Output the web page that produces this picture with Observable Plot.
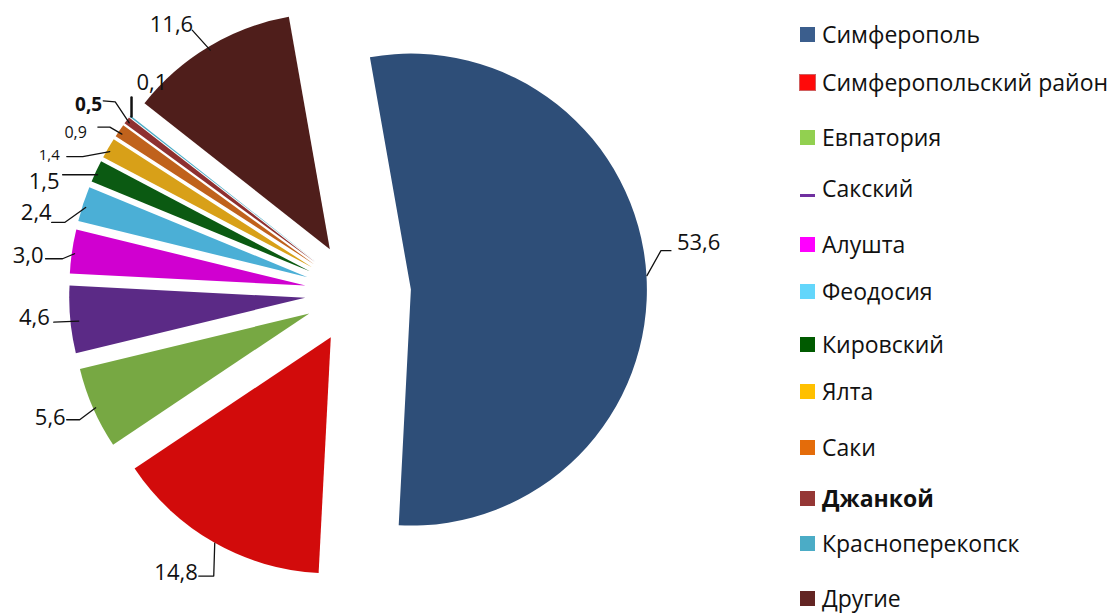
<!DOCTYPE html>
<html>
<head>
<meta charset="utf-8">
<script src="https://cdn.jsdelivr.net/npm/d3@7"></script>
<script src="https://cdn.jsdelivr.net/npm/@observablehq/plot@0.6"></script>
<style>
  html, body { margin: 0; padding: 0; background: #fff; }
  #wrap { position: relative; width: 1109px; height: 613px; overflow: hidden; font-family: "Open Sans", sans-serif; }
  #chart { position: absolute; left: 0; top: 0; }
  .lg { position: absolute; left: 800px; display: flex; align-items: center; white-space: nowrap; font-size: 23px; line-height: 26px; color: #111; height: 26px; }
  .sw { width: 15px; height: 15px; margin-right: 7px; flex: none; }
</style>
</head>
<body>
<div id="wrap"><div id="chart"></div></div>
<script>
// ---- data ----
const categories = ["Симферополь", "Симферопольский район", "Евпатория", "Сакский", "Алушта", "Феодосия",
  "Кировский", "Ялта", "Саки", "Джанкой", "Красноперекопск", "Другие"];
const values = [53.6, 14.8, 5.6, 4.6, 3.0, 2.4, 1.5, 1.4, 0.9, 0.5, 0.1, 11.6];
const sliceColors = ["#2e4e78", "#d20b0b", "#77a843", "#5b2a86", "#d000d0", "#4bafd6",
  "#0b5a12", "#d8a018", "#c0621c", "#8e3030", "#4bacc6", "#4f1e1b"];
const legendColors = ["#3b5e8d", "#ff0a0a", "#92d050", "#7030a0", "#ff00ff", "#63d6fb",
  "#005a00", "#ffc000", "#e46c0a", "#953735", "#4bacc6", "#632523"];

// ---- layout ----
const W = 790, H = 613, R = 236, CX = 356, CY = 293;
const EXPLODE_PX = [55, 51, 51, 51, 51, 51, 51, 51, 51, 51, 51, 51];
const START = -10 * Math.PI / 180;
// leader paths and label anchors, as pixel offsets from each slice's outer-arc midpoint
const labelLayout = [
  {path: [[0,0],[14,-25],[24,-25]], at: [30,-33], anchor: "start", size: 22},
  {path: [[0,0],[-1,33],[-16,33]], at: [-17,30], anchor: "end", size: 22},
  {path: [[2,-1],[-14,11],[-27,11]], at: [-28,9], anchor: "end", size: 22},
  {path: [[8,1],[-17,2]], at: [-21,-2], anchor: "end", size: 22},
  {path: [[2,2],[-10,7],[-27,7]], at: [-29,4], anchor: "end", size: 22},
  {path: [[2,3],[-19,18],[-32,18]], at: [-32,9], anchor: "end", size: 22},
  {path: [[1,3],[-34,3]], at: [-37,10], anchor: "end", size: 22},
  {path: [[1,3],[-26,8],[-42,8]], at: [-49,7], anchor: "end", size: 15},
  {path: [[2,3],[-10,-4],[-22,-4]], at: [-33,2], anchor: "end", size: 16},
  {path: [[2,2],[-12,-19],[-24,-20]], at: [-25,-16], anchor: "end", size: 19, bold: true},
  {path: [[1,0],[1,-19]], at: [6,-34], anchor: "start", size: 22, thick: true},
  {path: [[1,3],[-17,-17]], at: [-16,-22], anchor: "end", size: 22}
];
const legendY = [34, 82, 137, 188, 244, 291, 344, 391, 447, 498, 543, 598];

const fmt = d3.formatLocale({decimal: ",", thousands: " ", grouping: [3], currency: ["", ""]}).format(".1f");

const arcs = d3.pie().sort(null).value(d => d)
  .startAngle(START).endAngle(START + 2 * Math.PI)(values);

const slices = arcs.map((a, i) => {
  const mid = (a.startAngle + a.endAngle) / 2;
  const e = EXPLODE_PX[i] / R;
  return {
    category: categories[i], value: values[i], color: sliceColors[i],
    start: a.startAngle, end: a.endAngle, mid,
    ox: e * Math.sin(mid), oy: -e * Math.cos(mid),
    ax: (1 + e) * Math.sin(mid), ay: -(1 + e) * Math.cos(mid)
  };
});

const leaders = [];
const labels = [];
slices.forEach((s, i) => {
  const L = labelLayout[i];
  L.path.forEach(([dx, dy], k) => leaders.push({category: s.category, k, x: s.ax + dx / R, y: s.ay + dy / R, thick: !!L.thick}));
  labels.push({category: s.category, text: fmt(s.value), x: s.ax + L.at[0] / R, y: s.ay + L.at[1] / R,
    anchor: L.anchor, size: L.size, bold: !!L.bold});
});

function pieMark(index, scales) {
  const x = scales.x, y = scales.y;
  const r = x(1) - x(0);
  const arcGen = d3.arc().innerRadius(0).outerRadius(r);
  const g = d3.create("svg:g");
  slices.forEach(s => {
    g.append("path")
      .attr("d", arcGen({startAngle: s.start, endAngle: s.end}))
      .attr("transform", `translate(${x(s.ox)},${y(s.oy)})`)
      .attr("fill", s.color);
  });
  return g.node();
}

const textMark = (filter, opts) => Plot.text(labels.filter(filter), {
  x: "x", y: "y", text: "text", fontSize: "size", fill: "#111", ...opts
});

const chart = Plot.plot({
  width: W, height: H, margin: 0,
  style: {fontFamily: "'Open Sans', sans-serif", background: "transparent"},
  x: {domain: [-CX / R, (W - CX) / R], axis: null},
  y: {domain: [-CY / R, (H - CY) / R], reverse: true, axis: null},
  marks: [
    pieMark,
    Plot.line(leaders.filter(d => !d.thick), {x: "x", y: "y", z: "category", stroke: "#111", strokeWidth: 1.3, curve: "linear"}),
    Plot.line(leaders.filter(d => d.thick), {x: "x", y: "y", z: "category", stroke: "#111", strokeWidth: 2.5}),
    textMark(d => d.anchor === "start" && !d.bold, {textAnchor: "start"}),
    textMark(d => d.anchor === "end" && !d.bold, {textAnchor: "end"}),
    textMark(d => d.bold, {textAnchor: "end", fontWeight: "bold"})
  ]
});
document.getElementById("chart").appendChild(chart);

// legend
const wrap = document.getElementById("wrap");
categories.forEach((c, i) => {
  const item = document.createElement("div");
  item.className = "lg";
  item.style.top = (legendY[i] - 13) + "px";
  const sw = document.createElement("span");
  sw.className = "sw";
  if (c === "Сакский") {
    sw.style.height = "3px"; sw.style.marginTop = "14px"; sw.style.background = legendColors[i];
  } else if (c === "Симферопольский район") {
    sw.style.background = legendColors[i]; sw.style.boxShadow = "0 0 0 1px #d06060";
  } else {
    sw.style.background = legendColors[i];
  }
  const t = document.createElement("span");
  t.textContent = c;
  if (c === "Джанкой") t.style.fontWeight = "bold";
  item.appendChild(sw); item.appendChild(t);
  wrap.appendChild(item);
});
</script>
</body>
</html>
